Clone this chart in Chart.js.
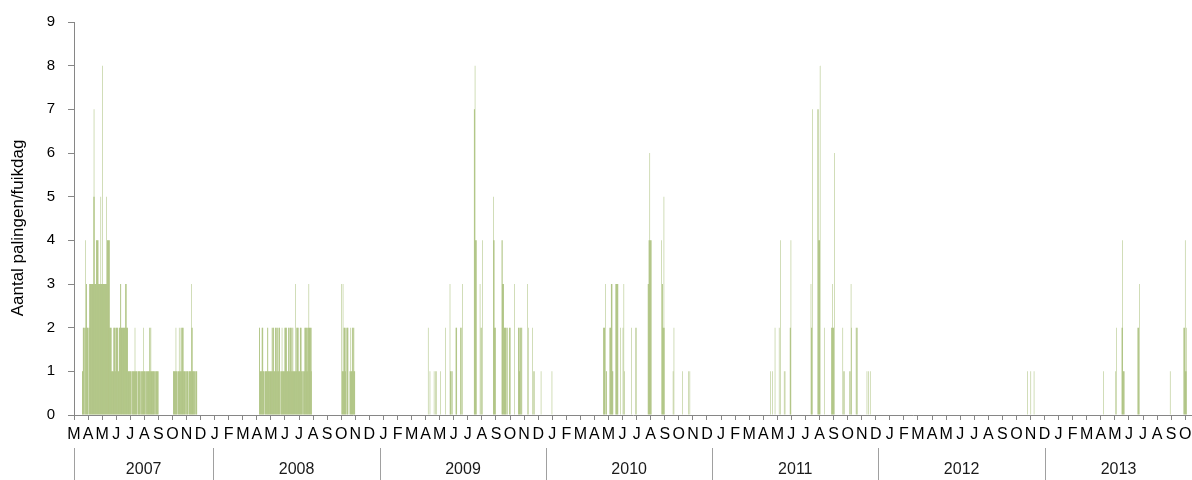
<!DOCTYPE html>
<html>
<head>
<meta charset="utf-8">
<script src="https://cdn.jsdelivr.net/npm/chart.js@4.4.1/dist/chart.umd.min.js"></script>
<style>
  body { margin: 0; background: #fff; }
</style>
</head>
<body>
<canvas id="palingChart" width="1192" height="480"></canvas>
<script>
// daily catch per fyke day, grouped in runs of consecutive days (first day + values)
const seasonStart = [
  "2007-03-19", "2007-10-05", "2008-04-11", "2008-10-09",
  "2009-04-17", "2009-04-30", "2009-05-14", "2009-05-25", "2009-06-04", "2009-06-17",
  "2009-06-27", "2009-07-27", "2009-08-09", "2009-09-07", "2009-09-26", "2009-10-12",
  "2009-10-24", "2009-11-01", "2009-11-21", "2009-12-02", "2009-12-21", "2010-01-14",
  "2010-05-07", "2010-05-21", "2010-06-03", "2010-06-14", "2010-07-08", "2010-07-16",
  "2010-08-13", "2010-09-12", "2010-10-07", "2010-10-28", "2010-11-10",
  "2011-05-09", "2011-05-28", "2011-06-08", "2011-06-21", "2011-08-06", "2011-08-21",
  "2011-09-04", "2011-09-20", "2011-10-15", "2011-10-30", "2011-11-13", "2011-12-07",
  "2012-11-23", "2012-12-01", "2012-12-08",
  "2013-05-09", "2013-06-05", "2013-06-19", "2013-07-24", "2013-10-03", "2013-11-02"
];
const seasonCatch = [
  [1,1,2,2,2,2,0,4,2,3,3,2,2,2,0,2,3,3,3,3,3,3,3,3,3,5,7,5,3,3,3,4,4,4,4,4,3,3,3,3,3,5,3,3,3,8,
   3,3,3,3,3,3,3,3,5,4,4,4,4,4,4,2,2,2,2,1,1,1,1,2,2,2,2,1,2,2,2,2,2,1,1,2,2,2,3,3,
   2,2,2,2,2,2,2,2,2,3,3,3,2,2,2,1,1,1,1,1,1,1,0,1,1,1,1,1,1,1,2,
   1,1,1,1,1,0,1,1,1,1,1,1,0,1,1,1,1,1,2,1,1,1,1,0,1,1,1,1,1,1,1,2,2,1,2,
   1,1,1,1,1,1,1,1,0,1,1,1,1,1,1,1],
  [1,1,1,1,1,1,2,1,1,0,1,1,1,2,1,1,1,2,2,1,2,2,2,1,1,1,1,1,0,1,1,1,1,1,0,1,1,1,1,
   1,3,2,2,1,1,1,1,1,0,1,1,1,1],
  [2,2,1,1,1,1,2,2,2,1,1,1,0,1,1,1,1,1,2,2,1,1,1,1,1,1,1,1,2,2,1,2,2,1,1,2,2,1,2,2,2,
   1,1,2,2,2,1,0,1,1,2,1,1,1,1,1,2,2,2,2,2,1,1,1,2,2,1,2,2,2,1,2,2,1,2,1,1,1,1,3,1,1,
   2,2,2,2,1,2,1,1,2,2,2,1,1,1,0,1,1,1,2,2,2,2,2,1,2,2,2,3,2,2,2,2,1,2],
  [3,1,1,3,1,2,2,2,1,2,2,0,2,2,2,0,0,0,1,1,2,1,1,2,2,1,2,2,1,1],
  [2,0,0,0,1], [1,0,0,1,0,1], [1], [2], [3,1,1,0,1,0,1], [2,2,2],
  [2,2,0,2,3], [7,7,8,4,4,4], [3,0,2,2,0,0,4], [5,4,4,2,2,2], [4,4,3,3,3,2,2,2,2,2,0,2,2], [2,2,0,2],
  [3], [2,2,2,1,2,2,0,2,2], [3,0,2], [2,0,1,0,1], [1], [1],
  [2,2,2,2,3,0,1,1], [2,2,2,3,3,3,1,1], [3,3,3,3,3,3], [2,0,0,0,0,2,0,3,0,1], [2], [2,0,2],
  [3,3,4,4,6,4,4,4], [4,3,3,2,2,5,2], [1,0,2], [1], [1,0,0,1],
  [1,0,0,0,0,1,0,0,0,0,2], [2,0,0,4], [1,0,1], [2,2,4], [3,2,2,7], [7,7,4,4,4,8],
  [2], [2,2,3,2,2,2,6], [2,0,1,0,1], [1,1,0,3,2], [2,2,0,2], [1,0,0,1,0,0,0,1],
  [1], [1], [1],
  [1], [1,0,2], [2,2,4,1,1,1], [2,2,2,3], [1], [2,2,2,4,1,1,2]
];

const monthLetters = ["J", "F", "M", "A", "M", "J", "J", "A", "S", "O", "N", "D"];
const years = [2007, 2008, 2009, 2010, 2011, 2012, 2013];
const yTicks = [0, 1, 2, 3, 4, 5, 6, 7, 8, 9];
const axisStart = "2007-03-01";
const axisEnd = "2013-11-20";
const tickStep = 30.9; // labels of the sheet sit a little wider apart than calendar months

const t0 = Date.parse(axisStart);
const dayNo = s => Math.round((Date.parse(s) - t0) / 86400000);

const points = [];
seasonStart.forEach((s, k) => {
  const d0 = dayNo(s);
  seasonCatch[k].forEach((v, i) => {
    if (v > 0) points.push({ x: d0 + i, y: v });
  });
});

// month letters under the ticks, running on from March 2007
const firstMonth = 2;
const tickLabel = v => monthLetters[(firstMonth + Math.round(v / tickStep)) % 12];

const yearRow = {
  id: "yearRow",
  afterDraw(chart) {
    const xs = chart.scales.x;
    const ctx = chart.ctx;
    ctx.save();
    ctx.strokeStyle = "#a0a0a0";
    ctx.lineWidth = 1;
    ctx.fillStyle = "#1a1a1a";
    ctx.font = '16px "Liberation Sans", Arial, sans-serif';
    ctx.textAlign = "center";
    ctx.textBaseline = "middle";
    years.forEach(y => {
      const a = Math.max(dayNo(y + "-01-01"), xs.min);
      const b = Math.min(dayNo((y + 1) + "-01-01"), xs.max);
      const xa = xs.getPixelForValue(a);
      const xb = xs.getPixelForValue(b);
      const px = Math.round(xa) + 0.5;
      ctx.beginPath();
      ctx.moveTo(px, 448);
      ctx.lineTo(px, 480);
      ctx.stroke();
      ctx.fillText(String(y), (xa + xb) / 2, 470);
    });
    ctx.restore();
  }
};

Chart.defaults.font.family = '"Liberation Sans", Arial, sans-serif';
Chart.defaults.color = "#000";

new Chart(document.getElementById("palingChart"), {
  type: "bar",
  data: {
    datasets: [{
      data: points,
      backgroundColor: "#8aa84a",
      borderWidth: 0,
      inflateAmount: 0,
      barPercentage: 0.85,
      categoryPercentage: 1
    }]
  },
  options: {
    responsive: false,
    animation: false,
    layout: { autoPadding: false, padding: { top: 20, right: 0, left: 0, bottom: 0 } },
    plugins: { legend: { display: false }, tooltip: { enabled: false } },
    scales: {
      x: {
        type: "linear",
        offset: false,
        min: 0,
        max: dayNo(axisEnd),
        afterFit: s => { s.height = 65; s.paddingLeft = 0; s.paddingRight = 0; },
        ticks: {
          stepSize: tickStep,
          includeBounds: false,
          autoSkip: false,
          maxRotation: 0,
          padding: 5,
          font: { size: 16 },
          callback: v => tickLabel(v)
        },
        grid: { offset: false, drawOnChartArea: false, tickLength: 5, color: "#868686" },
        border: { color: "#868686" }
      },
      y: {
        min: 0,
        max: 9,
        afterBuildTicks: s => { s.ticks = yTicks.map(v => ({ value: v })); },
        afterFit: s => { s.width = 74; },
        ticks: { padding: 13, font: { size: 15 } },
        grid: { drawOnChartArea: false, tickLength: 6, color: "#868686" },
        border: { color: "#868686" },
        title: {
          display: true,
          text: "Aantal palingen/fuikdag\u00a0\u00a0\u00a0\u00a0",
          font: { size: 17 },
          padding: { top: 8, bottom: 0 }
        }
      }
    }
  },
  plugins: [yearRow]
});
</script>
</body>
</html>
